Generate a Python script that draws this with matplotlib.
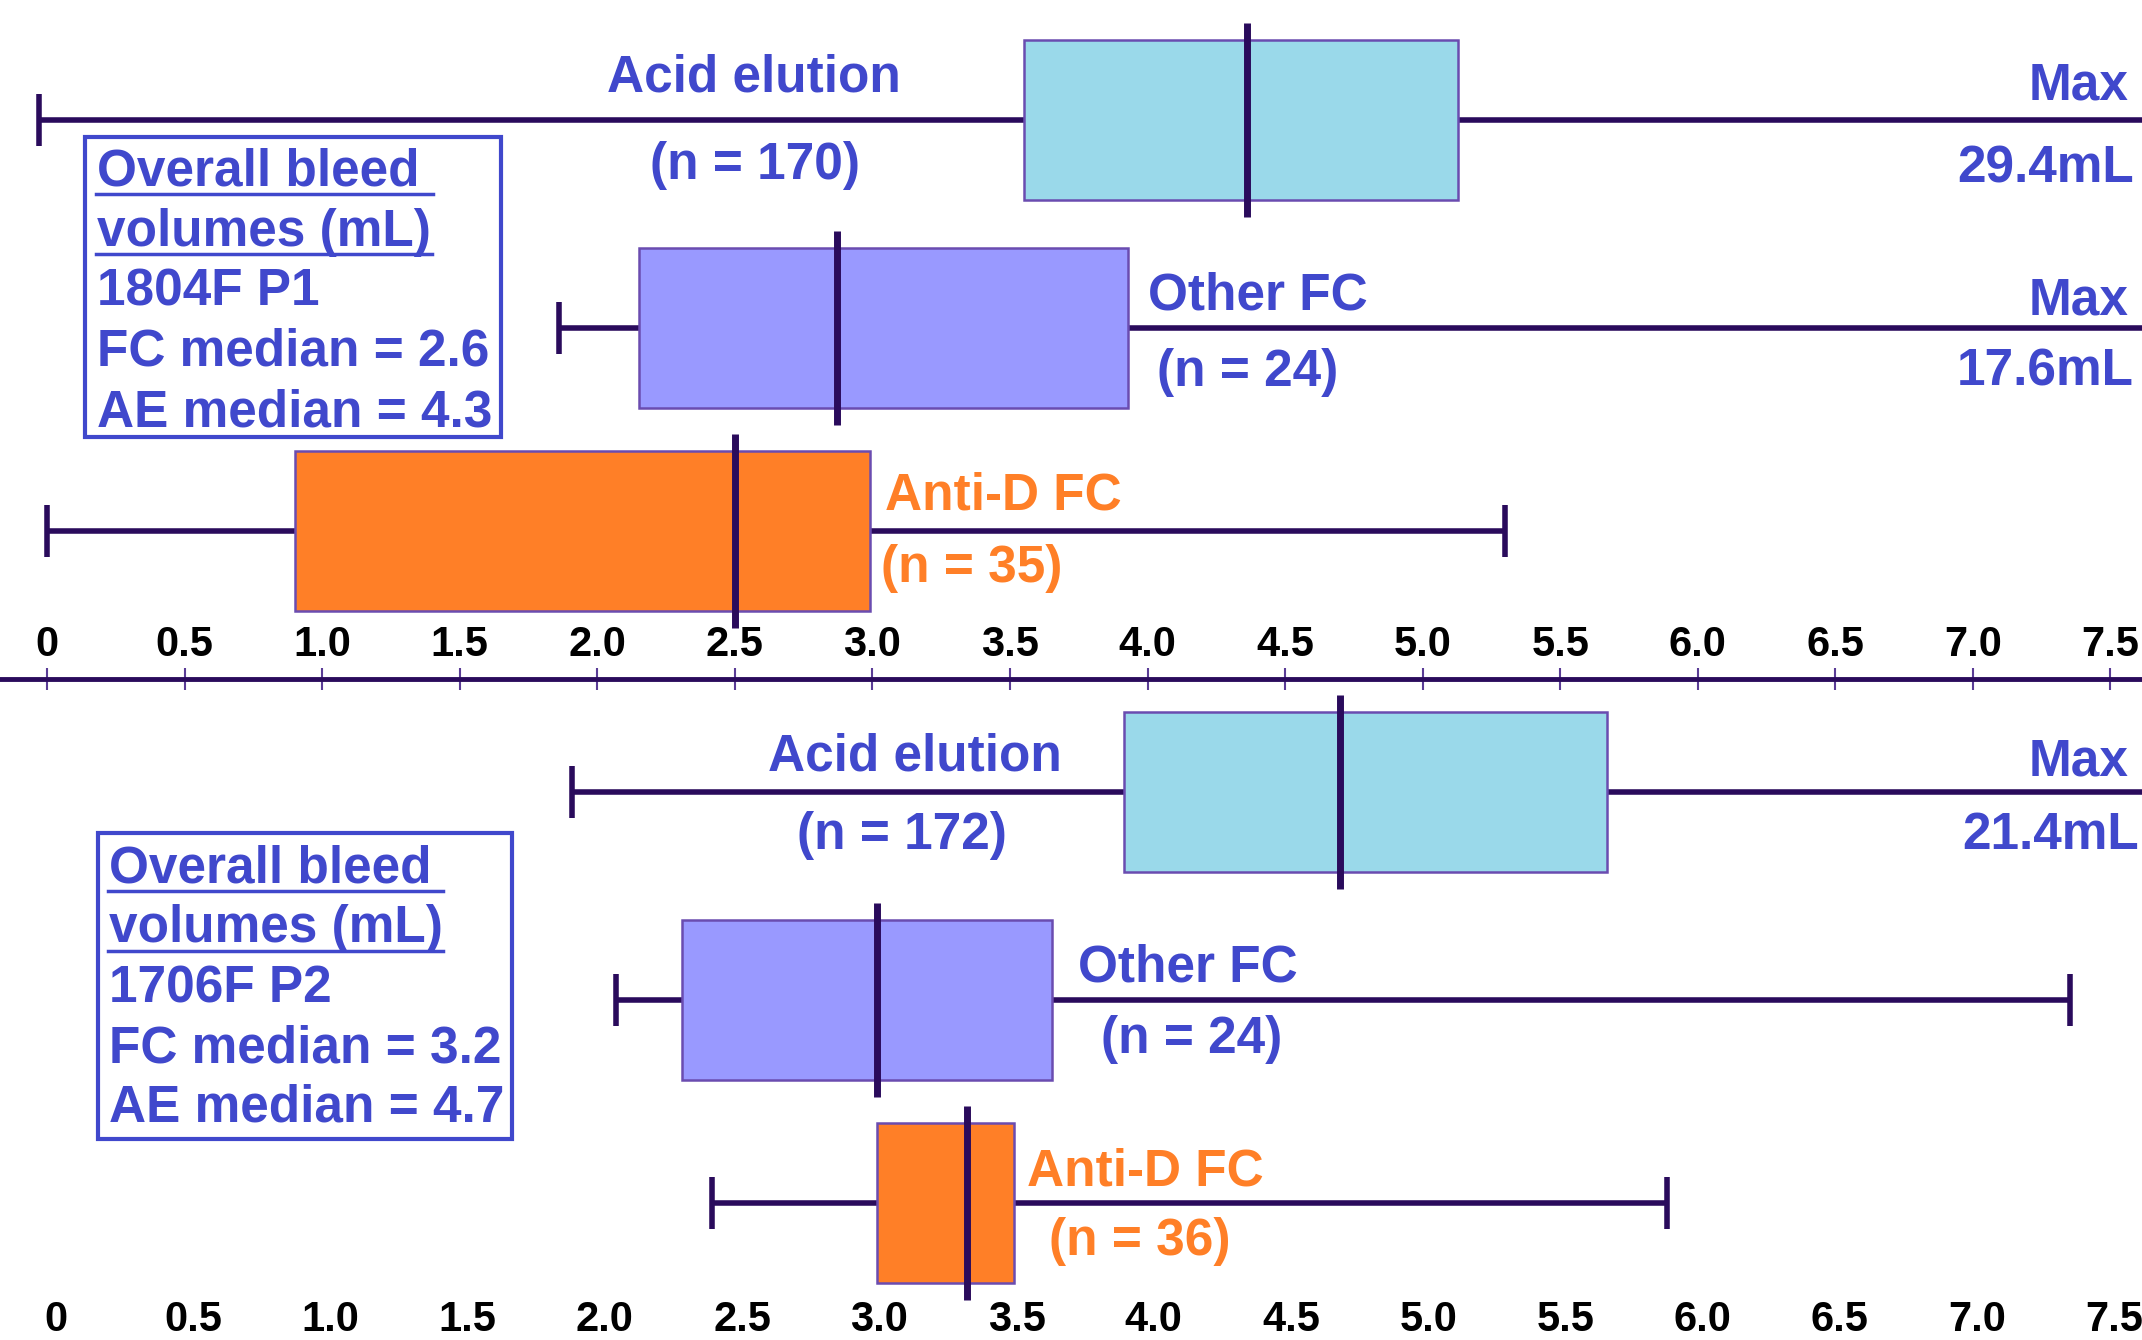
import matplotlib
matplotlib.use("Agg")
import matplotlib.pyplot as plt
from matplotlib.patches import Rectangle
from matplotlib.lines import Line2D

# ---- data (bleed volumes, mL) ----
tick_values = [0, 0.5, 1.0, 1.5, 2.0, 2.5, 3.0, 3.5, 4.0, 4.5, 5.0, 5.5, 6.0, 6.5, 7.0, 7.5]
tick_labels = ["0", "0.5", "1.0", "1.5", "2.0", "2.5", "3.0", "3.5", "4.0", "4.5",
               "5.0", "5.5", "6.0", "6.5", "7.0", "7.5"]

group_names = ["Acid elution", "Other FC", "Anti-D FC"]

# 1804F P1
top_n = [170, 24, 35]
top_min = [-0.03, 1.86, 0.0]
top_q1 = [3.55, 2.15, 0.90]
top_med = [4.36, 2.87, 2.50]
top_q3 = [5.13, 3.93, 2.99]
top_max = [29.4, 17.6, 5.30]

# 1706F P2
bot_n = [172, 24, 36]
bot_min = [1.88, 2.04, 2.39]
bot_q1 = [3.89, 2.28, 2.99]
bot_med = [4.68, 2.99, 3.32]
bot_q3 = [5.65, 3.63, 3.49]
bot_max = [21.4, 7.34, 5.87]

top_info = ["1804F P1", "FC median = 2.6", "AE median = 4.3"]
bot_info = ["1706F P2", "FC median = 3.2", "AE median = 4.7"]

# ---- style ----
W, H = 1568.0, 981.0   # layout units (reference preview pixels)
BLUE = "#4048CC"
ORANGE = "#FF7F27"
DARK = "#2A0B5C"
EDGE = "#6A4CB0"
box_colors = ["#9AD9EA", "#9999FF", "#FF7F27"]
FONT = "Liberation Sans"

plt.rcParams["font.family"] = [FONT, "DejaVu Sans"]
plt.rcParams["font.weight"] = "bold"

fig = plt.figure(figsize=(21.42, 13.40), dpi=100)


def fx(x):
    return x / W


def fy(y):
    return 1 - y / H


def draw_panel(ax, rows, vmin, q1, med, q3, vmax):
    box_h = 117
    for i, y in enumerate(rows):
        ax.hlines(y, vmin[i], q1[i], color=DARK, lw=4, zorder=2)
        ax.hlines(y, q3[i], vmax[i], color=DARK, lw=4, zorder=2)
        ax.vlines([vmin[i], vmax[i]], y - 19, y + 19, color=DARK, lw=4, zorder=2)
        ax.barh(y, q3[i] - q1[i], left=q1[i], height=box_h, color=box_colors[i],
                edgecolor=EDGE, linewidth=1.8, zorder=3)
        ax.vlines(med[i], y - 71, y + 71, color=DARK, lw=5, zorder=4)


# ---- top panel ----
ax1 = fig.add_axes([0, fy(505), 1, 505 / H])
ax1.set_xlim(-34.4 / 201.4, (W - 34.4) / 201.4)
ax1.set_ylim(505, 0)
ax1.patch.set_visible(False)
draw_panel(ax1, [88, 240, 389], top_min, top_q1, top_med, top_q3, top_max)
for s in ["left", "right", "bottom"]:
    ax1.spines[s].set_visible(False)
ax1.spines["top"].set_position(("data", 497))
ax1.spines["top"].set_color(DARK)
ax1.spines["top"].set_linewidth(3.5)
ax1.xaxis.tick_top()
ax1.set_xticks(tick_values)
ax1.set_xticklabels(tick_labels, fontsize=30, fontweight="bold", color="black")
ax1.tick_params(axis="x", direction="inout", length=16, width=1.5, color="#5A3C96", pad=2)
ax1.set_yticks([])

# ---- bottom panel ----
ax2 = fig.add_axes([0, 0, 1, fy(505)])
ax2.set_xlim(-41 / 200.9, (W - 41) / 200.9)
ax2.set_ylim(981, 505)
ax2.patch.set_visible(False)
draw_panel(ax2, [580, 732, 881], bot_min, bot_q1, bot_med, bot_q3, bot_max)
for s in ["left", "right", "top", "bottom"]:
    ax2.spines[s].set_visible(False)
ax2.spines["bottom"].set_position(("data", 950))
ax2.set_xticks(tick_values)
ax2.set_xticklabels(tick_labels, fontsize=30, fontweight="bold", color="black")
ax2.tick_params(axis="x", length=0, pad=2)
ax2.set_yticks([])

# ---- labels ----
def label(x, y, s, color=BLUE, ha="left", size=37):
    fig.text(fx(x), fy(y + 3), s, color=color, ha=ha, va="center", fontsize=size,
             fontweight="bold")


label(552, 54, group_names[0], ha="center")
label(553, 118, "(n = %d)" % top_n[0], ha="center")
label(1558, 60, "Max", ha="right")
label(1562, 121, "%.1fmL" % top_max[0], ha="right")
label(840, 214, group_names[1])
label(847, 270, "(n = %d)" % top_n[1])
label(1558, 217, "Max", ha="right")
label(1562, 269, "%.1fmL" % top_max[1], ha="right")
label(648, 360, group_names[2], color=ORANGE)
label(645, 413, "(n = %d)" % top_n[2], color=ORANGE)

label(670, 551, group_names[0], ha="center")
label(660, 609, "(n = %d)" % bot_n[0], ha="center")
label(1558, 555, "Max", ha="right")
label(1566, 609, "%.1fmL" % bot_max[0], ha="right")
label(789, 706, group_names[1])
label(806, 758, "(n = %d)" % bot_n[1])
label(752, 855, group_names[2], color=ORANGE)
label(768, 906, "(n = %d)" % bot_n[2], color=ORANGE)


def info_box(x0, y0, x1, y1, lines, tx, ys, ul_ends):
    fig.add_artist(Rectangle((fx(x0), fy(y1)), fx(x1 - x0), (y1 - y0) / H,
                             transform=fig.transFigure, fill=False,
                             edgecolor=BLUE, linewidth=3))
    texts = ["Overall bleed", "volumes (mL)"] + lines
    for t, y in zip(texts, ys):
        label(tx, y, t)
    for k in range(2):
        yu = ys[k] + 19
        fig.add_artist(Line2D([fx(tx - 1), fx(ul_ends[k])], [fy(yu), fy(yu)],
                              transform=fig.transFigure, color=BLUE, lw=2.5))


info_box(62, 100, 367, 320, top_info, 71, [123, 167, 211, 255, 299], [317, 316])
info_box(72, 610, 375, 834, bot_info, 80, [633, 677, 721, 765, 808], [324, 324])

fig.savefig("out.png", dpi=100)
